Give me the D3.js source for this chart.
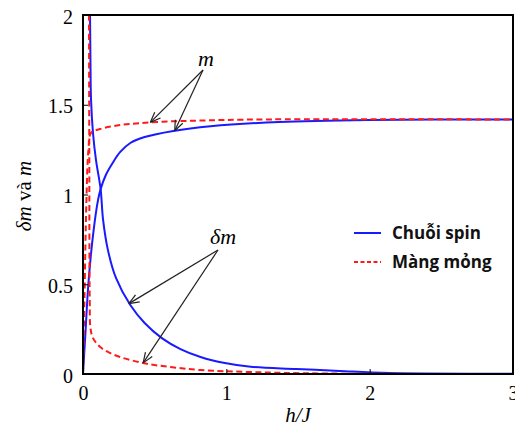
<!DOCTYPE html>
<html>
<head>
<meta charset="utf-8">
<script src="https://cdn.jsdelivr.net/npm/d3@7/dist/d3.min.js"></script>
<style>
  html, body { margin: 0; padding: 0; background: #fff; }
  svg { display: block; }
</style>
</head>
<body>
<svg id="chart" width="515" height="427"></svg>
<script>
// Field h/J and the two quantities for each system
const spinM_h   = [0, 0.017, 0.038, 0.07, 0.105, 0.123, 0.16, 0.21, 0.26, 0.33, 0.43, 0.63, 0.89, 1.37, 2.0, 3.0];
const spinM     = [0, 0.228, 0.507, 0.774, 0.97, 1.03, 1.11, 1.18, 1.237, 1.287, 1.32, 1.354, 1.38, 1.404, 1.415, 1.418];

const spinDm_h  = [0.049, 0.052, 0.056, 0.07, 0.091, 0.123, 0.14, 0.174, 0.23, 0.33, 0.43, 0.55, 0.68, 0.82, 0.99, 1.17, 1.49, 1.79, 2.14, 3.0];
const spinDm    = [2.0, 1.75, 1.53, 1.34, 1.19, 1.03, 0.86, 0.69, 0.535, 0.384, 0.284, 0.20, 0.139, 0.095, 0.061, 0.04, 0.028, 0.017, 0.006, 0.002];

const filmM_h   = [0, 0.01, 0.024, 0.038, 0.056, 0.12, 0.26, 0.4, 0.6, 0.82, 1.23, 3.0];
const filmM     = [0, 0.41, 0.97, 1.25, 1.343, 1.365, 1.387, 1.398, 1.407, 1.412, 1.418, 1.418];

const filmDm_h  = [0.042, 0.044, 0.047, 0.052, 0.07, 0.12, 0.22, 0.42, 0.61, 0.82, 1.17, 1.65, 3.0];
const filmDm    = [2.0, 1.25, 0.41, 0.256, 0.2, 0.15, 0.106, 0.061, 0.039, 0.022, 0.011, 0.003, 0];

const xTicks = [0, 1, 2, 3];
const yTicks = [0, 0.5, 1, 1.5, 2];
const yTickLabels = ["0", "0.5", "1", "1.5", "2"];
const legendLabels = ["Chuỗi spin", "Màng mỏng"];

const svg = d3.select("#chart");
const margin = { left: 83, top: 15, right: 513, bottom: 374 };

const x = d3.scaleLinear().domain([0, 3]).range([margin.left, margin.right]);
const y = d3.scaleLinear().domain([0, 2]).range([margin.bottom, margin.top]);

const blue = "#1a1aff";
const red = "#ff1a1a";

svg.append("defs").append("clipPath").attr("id", "plotClip")
  .append("rect")
  .attr("x", margin.left).attr("y", margin.top)
  .attr("width", margin.right - margin.left)
  .attr("height", margin.bottom - margin.top);

const curveGen = () => d3.line().x(d => x(d[0])).y(d => y(d[1])).curve(d3.curveCatmullRom);

const plot = svg.append("g").attr("clip-path", "url(#plotClip)");

function addCurve(hs, vs, color, dashed) {
  plot.append("path")
    .datum(hs.map((h, i) => [h, vs[i]]))
    .attr("d", curveGen())
    .attr("fill", "none")
    .attr("stroke", color)
    .attr("stroke-width", 2)
    .attr("stroke-linejoin", "round")
    .attr("stroke-dasharray", dashed ? "6,3.5" : null);
}

addCurve(spinM_h, spinM, blue, false);
addCurve(spinDm_h, spinDm, blue, false);
addCurve(filmM_h, filmM, red, true);
addCurve(filmDm_h, filmDm, red, true);

// Axes box
svg.append("rect")
  .attr("x", margin.left).attr("y", margin.top)
  .attr("width", margin.right - margin.left)
  .attr("height", margin.bottom - margin.top)
  .attr("fill", "none").attr("stroke", "#000").attr("stroke-width", 2);

// Axes with inward ticks
const xAxis = d3.axisBottom(x).tickValues(xTicks).tickSizeInner(-5).tickSizeOuter(0)
  .tickFormat(d3.format("d")).tickPadding(12);
const yAxis = d3.axisLeft(y).tickValues(yTicks).tickSizeInner(-5).tickSizeOuter(0)
  .tickFormat((d, i) => yTickLabels[i]).tickPadding(10);

const gx = svg.append("g").attr("transform", `translate(0,${margin.bottom})`).call(xAxis);
const gy = svg.append("g").attr("transform", `translate(${margin.left},0)`).call(yAxis);

[gx, gy].forEach(g => {
  g.select(".domain").remove();
  g.selectAll("line").attr("stroke", "#000").attr("stroke-width", 1);
  g.selectAll("text")
    .attr("font-family", "'Liberation Serif', 'Times New Roman', serif")
    .attr("font-size", 20)
    .attr("fill", "#000");
});
gy.selectAll("text").attr("dy", "0.4em");

// Axis titles
svg.append("text")
  .attr("x", 298).attr("y", 422)
  .attr("text-anchor", "middle")
  .attr("font-family", "'Liberation Serif', serif")
  .attr("font-style", "italic")
  .attr("font-size", 21)
  .text("h/J");

const yTitle = svg.append("text")
  .attr("transform", "translate(31,196) rotate(-90)")
  .attr("text-anchor", "middle")
  .attr("font-family", "'Liberation Serif', serif")
  .attr("font-size", 21);
yTitle.append("tspan").attr("font-style", "italic").text("δm");
yTitle.append("tspan").text(" và ");
yTitle.append("tspan").attr("font-style", "italic").text("m");

// Annotation arrows
function arrow(x1, y1, x2, y2) {
  svg.append("line")
    .attr("x1", x1).attr("y1", y1).attr("x2", x2).attr("y2", y2)
    .attr("stroke", "#222").attr("stroke-width", 1.2);
  const ang = Math.atan2(y2 - y1, x2 - x1);
  const len = 11, spread = 0.38;
  [ang + Math.PI - spread, ang + Math.PI + spread].forEach(a => {
    svg.append("line")
      .attr("x1", x2).attr("y1", y2)
      .attr("x2", x2 + len * Math.cos(a)).attr("y2", y2 + len * Math.sin(a))
      .attr("stroke", "#222").attr("stroke-width", 1.2);
  });
}

svg.append("text")
  .attr("x", 206).attr("y", 66)
  .attr("text-anchor", "middle")
  .attr("font-family", "'Liberation Serif', serif")
  .attr("font-style", "italic")
  .attr("font-size", 22)
  .text("m");
arrow(203, 70, x(0.47), y(1.402));
arrow(203, 70, x(0.64), y(1.355));

svg.append("text")
  .attr("x", 223).attr("y", 244)
  .attr("text-anchor", "middle")
  .attr("font-family", "'Liberation Serif', serif")
  .attr("font-style", "italic")
  .attr("font-size", 22)
  .text("δm");
arrow(218, 250, x(0.32), y(0.392));
arrow(218, 250, x(0.42), y(0.062));

// Legend
const legend = svg.append("g");
[[blue, false], [red, true]].forEach((s, i) => {
  const ly = 233 + i * 29;
  legend.append("line")
    .attr("x1", 354).attr("x2", 381).attr("y1", ly).attr("y2", ly)
    .attr("stroke", s[0]).attr("stroke-width", 2)
    .attr("stroke-dasharray", s[1] ? "4,2.5" : null);
  legend.append("text")
    .attr("x", 392).attr("y", ly + 6)
    .attr("font-family", "'Open Sans', 'Liberation Sans', sans-serif")
    .attr("font-weight", "bold")
    .attr("font-size", 17)
    .attr("fill", "#111")
    .text(legendLabels[i]);
});
</script>
</body>
</html>
